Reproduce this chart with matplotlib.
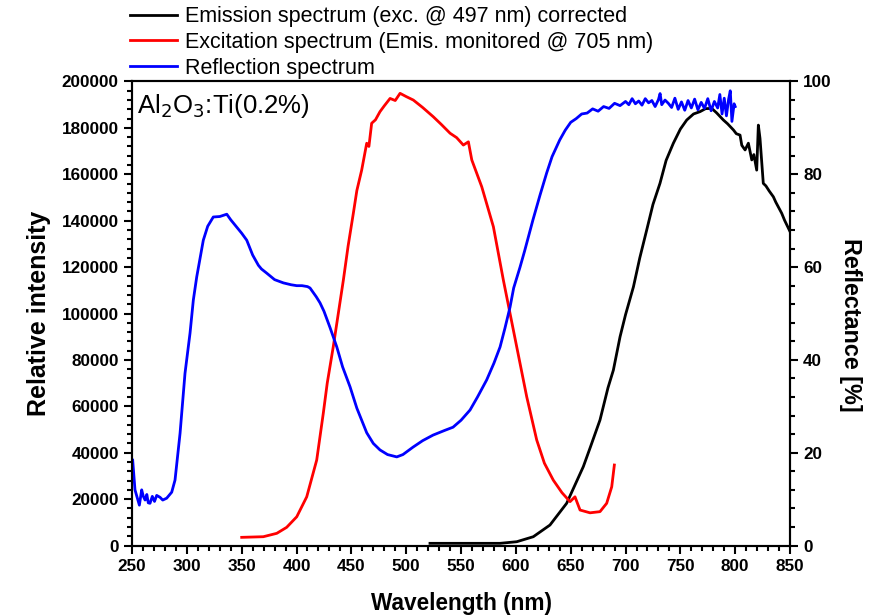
import matplotlib.pyplot as plt
from matplotlib.ticker import MultipleLocator

plt.rcParams['font.family'] = ['Liberation Sans', 'DejaVu Sans']

# Emission spectrum (exc. @ 497 nm), relative intensity
em_nm = [521.7, 540, 560, 585.6, 600.8, 615.9, 631.1, 646.3, 661.5, 668, 676.7, 684,
         688.9, 695, 700, 707.2, 713, 719.3, 725, 731.4, 737, 743.6, 750, 755.8, 762,
         767.9, 773, 778.6, 783, 789.2, 793, 798.4, 801, 804.4, 806, 809, 812, 815.1,
         817, 819.6, 821.1, 822.6, 825.6, 828, 831, 834.8, 837, 842.4, 845, 850]
em_val = [950, 950, 950, 950, 1640, 3800, 8840, 18200, 34000, 42500, 54100, 68000,
          75600, 90000, 99500, 111500, 124000, 136000, 147000, 156100, 166000, 173400, 179500, 183400, 186000,
          187000, 188300, 188400, 186500, 183400, 181800, 179100, 177500, 176900, 172500, 170500, 173400, 166200,
          168500, 161800, 181200, 175500, 156100, 155000, 152800, 150300, 148000, 143200, 140200, 135300]

# Excitation spectrum (emission monitored @ 705 nm)
ex_nm = [350, 369.7, 382, 391, 400.2, 409.3, 418.4, 424.4, 428, 433.5, 442.7, 447, 451.8,
         455, 459.4, 464, 466, 468.5, 472, 476.1, 480, 485.3, 490, 494.4, 500, 506.5,
         515, 524.7, 532, 540, 546, 552.1, 556.7, 559.8, 568.9, 579.5, 588.6, 597.7,
         603.8, 609.9, 619, 626, 634.1, 642, 649.4, 653.9, 658.5, 667.6, 676.7, 682.8, 687.4, 689.8]
ex_val = [3530, 3800, 5260, 7840, 12400, 21000, 36850, 57000, 70000, 85700, 114400, 129000, 143200,
          153000, 161800, 173400, 172000, 182000, 183500, 187000, 189500, 192700, 191800, 194900, 193500, 192000,
          188800, 184800, 181500, 177700, 175800, 172600, 174000, 166200, 154600, 137400, 114400, 92900,
          78500, 64100, 45500, 35500, 28200, 22800, 18900, 21000, 15300, 14100, 14600, 18200, 25300, 34700]

# Reflection spectrum, reflectance [%]
rf_nm = [250.6, 252.7, 254.5, 256.7, 258.8, 260.3, 261.9, 263.5, 264.8, 266.4, 268.5,
         270.5, 272.5, 275.5, 278, 281.6, 286.2, 289.2, 293.8, 298.3, 302.9, 305.9,
         309, 315, 319, 324.1, 330, 336.4, 340, 345.5, 350, 354.6, 360, 365.2, 368, 372.8,
         380, 388, 395, 400.2, 405, 410, 412.3, 415, 418, 421.4, 425, 430.5, 436.7, 442,
         448.8, 455, 464, 470, 476.1, 483, 491.4, 497, 506.2, 515, 524.5, 535, 542.7, 550,
         558.2, 565, 573.4, 580, 585.6, 590, 594.7, 598, 603.8, 608, 615.6, 622, 628.1, 633,
         640, 645, 650, 655, 660, 665, 670,
         675, 680, 685, 690, 695, 700, 703, 706, 709, 712, 715, 718, 721, 724, 727,
         730, 731.5, 733, 736, 739, 742, 745, 748, 751, 754, 757, 760, 763, 766, 769,
         772, 775, 778, 781, 784, 786, 788, 790, 792, 794, 795.5, 797, 799, 800]
rf_val = [18.4, 12.0, 10.5, 8.7, 12.0, 10.6, 9.8, 11.0, 9.2, 9.1, 10.6,
          9.5, 10.8, 10.4, 9.8, 10.2, 11.5, 14.1, 24.2, 37.1, 45.8, 52.9,
          57.9, 65.8, 68.8, 70.8, 70.9, 71.4, 70.2, 68.6, 67.3, 65.8, 62.6, 60.4, 59.6, 58.7,
          57.3, 56.6, 56.2, 56.0, 56.0, 55.8, 55.5, 54.6, 53.6, 52.3, 50.5, 47.0, 42.8, 38.5,
          34.2, 29.6, 24.3, 22.0, 20.6, 19.6, 19.1, 19.6, 21.2, 22.6, 23.8, 24.8, 25.5, 27.0,
          29.2, 32.0, 35.7, 39.3, 42.8, 46.8, 51.4, 55.5, 60.0, 63.5, 70.2, 75.5, 80.3, 83.8,
          87.4, 89.5, 91.2, 92.0, 93.0, 93.2, 94.1,
          93.6, 94.6, 94.2, 95.3, 94.8, 95.7, 95.0, 96.3, 95.2, 95.8, 94.9, 96.3, 95.4, 95.9, 94.6,
          96.1, 97.4, 95.0, 96.0, 95.3, 94.4, 96.4, 94.0, 95.6, 93.8, 95.9, 94.3, 96.2, 93.9, 95.5,
          94.2, 96.3, 93.7, 95.7, 94.3, 97.2, 93.0, 96.4, 92.6, 96.2, 98.0, 91.4, 95.2, 94.6]

fig = plt.figure(figsize=(8.79, 6.16), dpi=100)
ax = fig.add_axes([0.1502, 0.1144, 0.7486, 0.7533])
ax2 = ax.twinx()

l1, = ax.plot(em_nm, em_val, color='black', lw=2,
              label='Emission spectrum (exc. @ 497 nm) corrected')
l2, = ax.plot(ex_nm, ex_val, color='red', lw=2,
              label='Excitation spectrum (Emis. monitored @ 705 nm)')
l3, = ax2.plot(rf_nm, rf_val, color='blue', lw=2, label='Reflection spectrum')

ax.set_xlim(250, 850)
ax.set_ylim(0, 200000)
ax2.set_ylim(0, 100)

ax.xaxis.set_major_locator(MultipleLocator(50))
ax.xaxis.set_minor_locator(MultipleLocator(10))
ax.yaxis.set_major_locator(MultipleLocator(20000))
ax.yaxis.set_minor_locator(MultipleLocator(4000))
ax2.yaxis.set_major_locator(MultipleLocator(20))
ax2.yaxis.set_minor_locator(MultipleLocator(4))

for a in (ax, ax2):
    for s in a.spines.values():
        s.set_linewidth(1.5)
    a.tick_params(which='major', direction='out', length=6, width=1.5, labelsize=12.3)
    a.tick_params(which='minor', direction='out', length=3.5, width=1.5)
    for lab in a.get_xticklabels() + a.get_yticklabels():
        lab.set_fontweight('bold')
ax.tick_params(top=False, which='both')

ax.set_xlabel('Wavelength (nm)', fontsize=16.3, fontweight='bold', labelpad=13)
ax.set_ylabel('Relative intensity', fontsize=18, fontweight='bold', labelpad=8)
ax2.set_ylabel('Reflectance [%]', fontsize=16.8, fontweight='bold', rotation=-90, labelpad=22)
ax2.yaxis.label.set_y(0.475)

ax.text(0.007, 0.978, r'Al$_2$O$_3$:Ti(0.2%)', transform=ax.transAxes,
        fontsize=18.5, va='top', ha='left')

fig.legend(handles=[l1, l2, l3], loc='upper left', bbox_to_anchor=(0.138, 1.004),
           frameon=False, fontsize=15.5, handlelength=2.2, handletextpad=0.35,
           labelspacing=0.22, borderaxespad=0)

fig.savefig('out.png', dpi=100)
